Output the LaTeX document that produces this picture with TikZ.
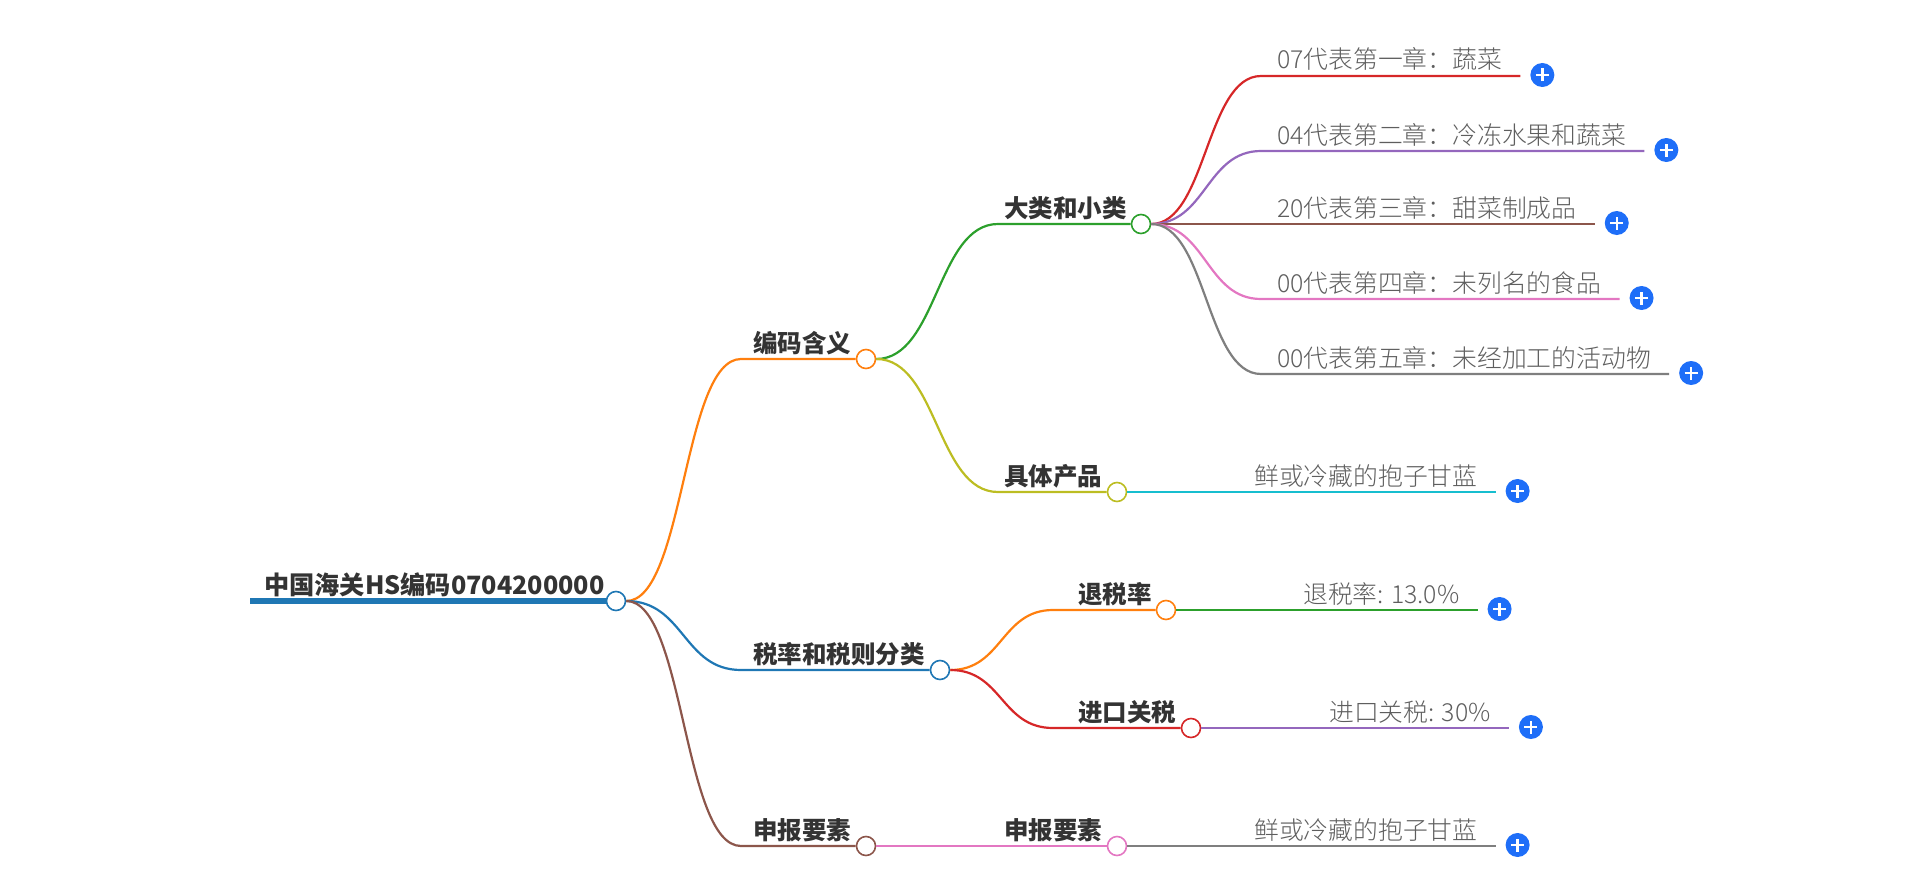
\documentclass[tikz,border=0pt]{standalone}
\usepackage{fontspec}
\setmainfont{Noto Sans CJK SC}
\newfontfamily\leaffont{Noto Sans CJK SC Light}
\usetikzlibrary{calc}

\definecolor{cBlue}{HTML}{1F77B4}
\definecolor{cOrange}{HTML}{FF7F0E}
\definecolor{cGreen}{HTML}{2CA02C}
\definecolor{cRed}{HTML}{D62728}
\definecolor{cPurple}{HTML}{9467BD}
\definecolor{cBrown}{HTML}{8C564B}
\definecolor{cPink}{HTML}{E377C2}
\definecolor{cGray}{HTML}{7F7F7F}
\definecolor{cOlive}{HTML}{BCBD22}
\definecolor{cCyan}{HTML}{17BECF}
\definecolor{lblgray}{HTML}{333333}
\definecolor{leafgray}{HTML}{5E5E5E}
\definecolor{plusblue}{HTML}{1E6EF8}

\tikzset{
  hub/.style={circle, draw, fill=white, line width=1.6pt, minimum size=19pt, inner sep=0pt},
  lbl/.style={font=\fontsize{24.5}{28}\selectfont\bfseries, text=lblgray, inner sep=0pt, anchor=base west},
  leaf/.style={font=\fontsize{24.8}{28}\leaffont, text=leafgray, inner sep=0pt, anchor=base west},
  edge/.style={line width=2.2pt},
  plus/.style={circle, fill=plusblue, minimum size=24pt, inner sep=0pt,
    path picture={\draw[white, line width=2.4pt]
      (path picture bounding box.center) ++(-6.5pt,0) -- ++(13pt,0)
      (path picture bounding box.center) ++(0,-6.5pt) -- ++(0,13pt);}},
}

\begin{document}
\begin{tikzpicture}[x=1pt, y=-1pt]
  %%%%% START %%%%%
  \useasboundingbox (0,0) rectangle (1920,891);

  % hubs
  \node[hub, draw=cBlue] (root) at (616,601) {};
  \node[hub, draw=cOrange] (code) at (866,359) {};
  \node[hub, draw=cBlue] (tax) at (940,670) {};
  \node[hub, draw=cBrown] (decl) at (866,846) {};
  \node[hub, draw=cGreen] (cls) at (1141,224) {};
  \node[hub, draw=cOlive] (prod) at (1117,492) {};
  \node[hub, draw=cOrange] (rebate) at (1166,610) {};
  \node[hub, draw=cRed] (duty) at (1191,728) {};
  \node[hub, draw=cPink] (decl2) at (1117,846) {};

  % labels
  \node[lbl, font=\fontsize{25.2}{28}\selectfont\bfseries] (rootT) at (264,594) {中国海关HS编码0704200000};
  \node[lbl] (codeT) at (753,352) {编码含义};
  \node[lbl] (taxT) at (753,663) {税率和税则分类};
  \node[lbl] (declT) at (753,839) {申报要素};
  \node[lbl] (clsT) at (1004,217) {大类和小类};
  \node[lbl] (prodT) at (1004,485) {具体产品};
  \node[lbl] (rebateT) at (1078,603) {退税率};
  \node[lbl] (dutyT) at (1078,721) {进口关税};
  \node[lbl] (decl2T) at (1004,839) {申报要素};

  % leaves
  \node[leaf] (ch1) at (1277,69) {07代表第一章：蔬菜};
  \node[leaf] (ch2) at (1277,144) {04代表第二章：冷冻水果和蔬菜};
  \node[leaf] (ch3) at (1277,217) {20代表第三章：甜菜制成品};
  \node[leaf] (ch4) at (1277,292) {00代表第四章：未列名的食品};
  \node[leaf] (ch5) at (1277,367) {00代表第五章：未经加工的活动物};
  \node[leaf] (prodL) at (1254,485) {鲜或冷藏的抱子甘蓝};
  \node[leaf] (rebateL) at (1303,603) {退税率: 13.0\%};
  \node[leaf] (dutyL) at (1329,721) {进口关税: 30\%};
  \node[leaf] (declL) at (1254,839) {鲜或冷藏的抱子甘蓝};

  % plus buttons
  \foreach \n in {ch1,ch2,ch3,ch4,ch5,prodL,rebateL,dutyL,declL}
    \node[plus] (\n P) at ($(\n.base east)+(40,6)$) {};

  % root and first level
  \coordinate (rootS) at (250,601);
  \draw[line width=5.5pt, cBlue] (rootS) -- (root.west);
  \draw[edge, cOrange] (root.east) .. controls +(58,0) and +(-58,0) .. (741,359) -- (code.west);
  \draw[edge, cBlue] (root.east) .. controls +(58,0) and +(-58,0) .. (741,670) -- (tax.west);
  \draw[edge, cBrown] (root.east) .. controls +(58,0) and +(-58,0) .. (741,846) -- (decl.west);

  % second level
  \draw[edge, cGreen] (code.east) .. controls +(61,0) and +(-61,0) .. (998,224) -- (cls.west);
  \draw[edge, cOlive] (code.east) .. controls +(61,0) and +(-61,0) .. (998,492) -- (prod.west);
  \draw[edge, cOrange] (tax.east) .. controls +(52,0) and +(-52,0) .. (1053,610) -- (rebate.west);
  \draw[edge, cRed] (tax.east) .. controls +(52,0) and +(-52,0) .. (1053,728) -- (duty.west);
  \draw[edge, cPink] (decl.east) -- (decl2.west);

  % third level
  \draw[edge, cRed] (cls.east) .. controls +(55,0) and +(-55,0) .. ($(ch1.base west)+(-16,7)$) -- ($(ch1.base east)+(18,7)$);
  \draw[edge, cPurple] (cls.east) .. controls +(55,0) and +(-55,0) .. ($(ch2.base west)+(-16,7)$) -- ($(ch2.base east)+(18,7)$);
  \draw[edge, cBrown] (cls.east) -- ($(ch3.base east)+(18,7)$);
  \draw[edge, cPink] (cls.east) .. controls +(55,0) and +(-55,0) .. ($(ch4.base west)+(-16,7)$) -- ($(ch4.base east)+(18,7)$);
  \draw[edge, cGray] (cls.east) .. controls +(55,0) and +(-55,0) .. ($(ch5.base west)+(-16,7)$) -- ($(ch5.base east)+(18,7)$);
  \draw[edge, cCyan] (prod.east) -- ($(prodL.base east)+(18,7)$);
  \draw[edge, cGreen] (rebate.east) -- ($(rebateL.base east)+(18,7)$);
  \draw[edge, cPurple] (duty.east) -- ($(dutyL.base east)+(18,7)$);
  \draw[edge, cGray] (decl2.east) -- ($(declL.base east)+(18,7)$);

  %%%%% END %%%%%
\end{tikzpicture}
\end{document}
